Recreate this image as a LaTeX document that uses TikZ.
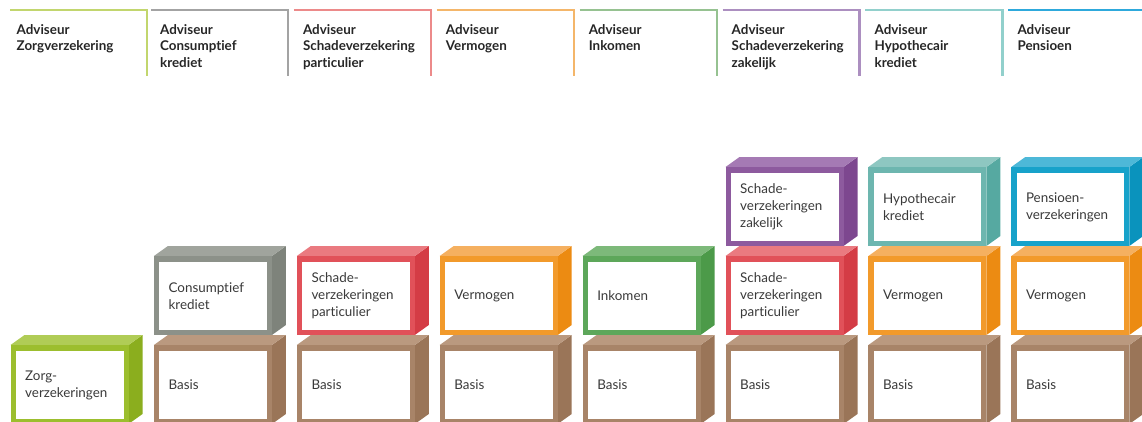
\documentclass[tikz,border=0pt]{standalone}
\usepackage{fontspec}
\setmainfont{Lato}[Ligatures=CommonOff]
\definecolor{limeF}{HTML}{9CBE2E}\definecolor{limeS}{HTML}{8BAE1E}\definecolor{limeT}{HTML}{B0CC56}
\definecolor{grayF}{HTML}{8C9189}\definecolor{grayS}{HTML}{7E837B}\definecolor{grayT}{HTML}{A0A49D}
\definecolor{brownF}{HTML}{A88468}\definecolor{brownS}{HTML}{9A7558}\definecolor{brownT}{HTML}{BA997F}
\definecolor{redF}{HTML}{E15159}\definecolor{redS}{HTML}{D43C45}\definecolor{redT}{HTML}{EA7A80}
\definecolor{orangeF}{HTML}{F29A2B}\definecolor{orangeS}{HTML}{EC8B12}\definecolor{orangeT}{HTML}{F5B060}
\definecolor{greenF}{HTML}{5DA75A}\definecolor{greenS}{HTML}{4C9A49}\definecolor{greenT}{HTML}{7DB97A}
\definecolor{purpleF}{HTML}{8D5A9E}\definecolor{purpleS}{HTML}{7D478F}\definecolor{purpleT}{HTML}{A57AB4}
\definecolor{tealF}{HTML}{6DB6AF}\definecolor{tealS}{HTML}{56A9A1}\definecolor{tealT}{HTML}{8EC7C1}
\definecolor{blueF}{HTML}{17A2CA}\definecolor{blueS}{HTML}{0A93BD}\definecolor{blueT}{HTML}{4DB8D8}
\definecolor{limeL}{HTML}{C2D66E}\definecolor{grayL}{HTML}{A3A3A3}\definecolor{redL}{HTML}{EC8A8A}
\definecolor{orangeL}{HTML}{F4B66A}\definecolor{greenL}{HTML}{96C291}\definecolor{purpleL}{HTML}{AC8FC0}
\definecolor{tealL}{HTML}{92D0CC}\definecolor{blueL}{HTML}{2EA9DC}
\definecolor{txt}{HTML}{3A3A3A}
\tikzset{
  headtext/.style={anchor=north west, inner sep=0pt, align=left, text=black!85,
    font=\bfseries\fontsize{13.4}{16.5}\selectfont},
  cubetext/.style={anchor=west, inner sep=0pt, align=left, text=txt,
    font=\fontsize{13.4}{17}\selectfont},
  headline/.style={line width=2.2pt}
}
% #1 name, #2 x, #3 top, #4 colour prefix, #5 text
\newcommand{\drawcube}[5]{%
  \fill[#4S] (#2+118,#3) -- (#2+132,#3-10) -- (#2+132,#3+69) -- (#2+118,#3+79) -- cycle;
  \fill[#4T] (#2,#3) -- (#2+14,#3-10) -- (#2+132,#3-10) -- (#2+118,#3) -- cycle;
  \fill[#4F] (#2,#3) rectangle (#2+118,#3+79);
  \fill[white] (#2+5.5,#3+5.5) rectangle (#2+113,#3+74);
  \node[cubetext] (#1) at (#2+14.5,#3+40) {#5};
}
% #1 name, #2 line start x, #3 text x, #4 colour, #5 text
\newcommand{\drawhead}[5]{%
  \draw[headline,#4L] (#2,10) -- (#2+137,10) -- (#2+137,76);
  \node[headtext] (#1) at (#3,24) {#5};
}
\begin{document}
\begin{tikzpicture}[x=1pt,y=-1pt]
\useasboundingbox (0,0) rectangle (1142,421);
\clip (0,0) rectangle (1142,421);
% headers
\drawhead{h1}{10}{16.5}{lime}{Adviseur\\Zorgverzekering}
\drawhead{h2}{150.9}{159.9}{gray}{Adviseur\\Consumptief\\krediet}
\drawhead{h3}{293.8}{302.8}{red}{Adviseur\\Schadeverzekering\\particulier}
\drawhead{h4}{436.7}{445.7}{orange}{Adviseur\\Vermogen}
\drawhead{h5}{579.6}{588.6}{green}{Adviseur\\Inkomen}
\drawhead{h6}{722.5}{731.5}{purple}{Adviseur\\Schadeverzekering\\zakelijk}
\drawhead{h7}{865.4}{874.4}{teal}{Adviseur\\Hypothecair\\krediet}
\drawhead{h8}{1008.3}{1017.3}{blue}{Adviseur\\Pensioen}
% top row
\drawcube{c6c}{725.5}{167}{purple}{Schade-\\verzekeringen\\zakelijk}
\drawcube{c7c}{868.4}{167}{teal}{Hypothecair\\krediet}
\drawcube{c8c}{1011.3}{167}{blue}{Pensioen-\\verzekeringen}
% middle row
\drawcube{c2b}{153.9}{256}{gray}{Consumptief\\krediet}
\drawcube{c3b}{296.8}{256}{red}{Schade-\\verzekeringen\\particulier}
\drawcube{c4b}{439.7}{256}{orange}{Vermogen}
\drawcube{c5b}{582.6}{256}{green}{Inkomen}
\drawcube{c6b}{725.5}{256}{red}{Schade-\\verzekeringen\\particulier}
\drawcube{c7b}{868.4}{256}{orange}{Vermogen}
\drawcube{c8b}{1011.3}{256}{orange}{Vermogen}
% bottom row
\drawcube{c1a}{10.5}{345}{lime}{Zorg-\\verzekeringen}
\drawcube{c2a}{153.9}{345}{brown}{Basis}
\drawcube{c3a}{296.8}{345}{brown}{Basis}
\drawcube{c4a}{439.7}{345}{brown}{Basis}
\drawcube{c5a}{582.6}{345}{brown}{Basis}
\drawcube{c6a}{725.5}{345}{brown}{Basis}
\drawcube{c7a}{868.4}{345}{brown}{Basis}
\drawcube{c8a}{1011.3}{345}{brown}{Basis}
\end{tikzpicture}
\end{document}
